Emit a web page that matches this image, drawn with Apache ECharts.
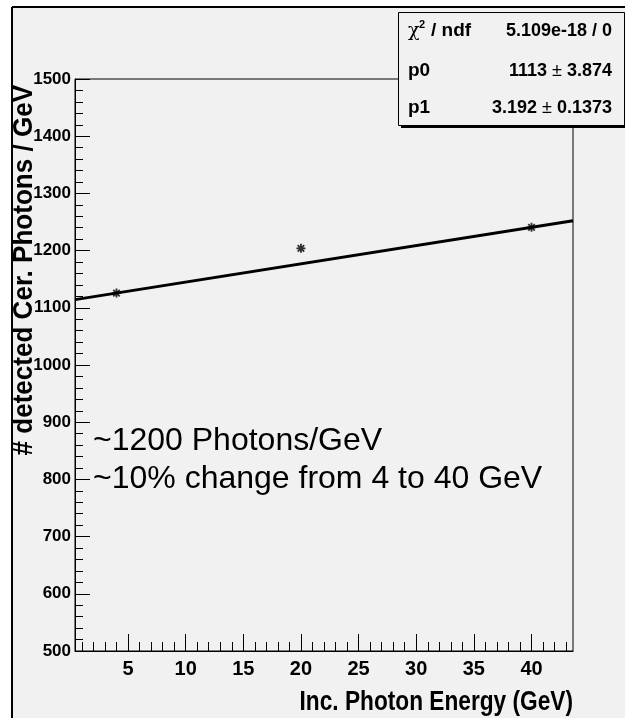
<!DOCTYPE html>
<html>
<head>
<meta charset="utf-8">
<script src="https://cdn.jsdelivr.net/npm/echarts@6/dist/echarts.min.js"></script>
<style>
  html, body { margin: 0; padding: 0; background: #ffffff; }
  #chart { width: 625px; height: 718px; }
</style>
</head>
<body>
<div id="chart"></div>
<script>
// Detected Cherenkov photons per GeV at each incident photon energy
const energies = [4, 20, 40];
const photonsPerGeV = [1125.8, 1204, 1240.7];

// Straight-line fit (pol1): y = p0 + p1 * x
const fitP0 = 1113;
const fitP1 = 3.192;

// Fit statistics box contents
const statNames = ['p0', 'p1'];
const statValues = ['1113', '3.192'];
const statErrors = ['3.874', '0.1373'];
const chi2Text = '5.109e-18 / 0';

// Axis ranges and tick positions
const xRange = [0.4, 43.6];
const yRange = [500, 1500];
const xMajorTicks = [5, 10, 15, 20, 25, 30, 35, 40];
const xMinorTicks = [];
for (let v = 1; v <= 43; v++) xMinorTicks.push(v);

const notes = ['~1200 Photons/GeV', '~10% change from 4 to 40 GeV'];

const SANS = "'Liberation Sans', Arial, Helvetica, sans-serif";

const chart = echarts.init(document.getElementById('chart'), null, { renderer: 'canvas' });

const points = energies.map((e, i) => [e, photonsPerGeV[i]]);
const fitLine = xRange.map(x => [x, fitP0 + fitP1 * x]);

const starPath = 'path://M0,-5L0,5M-5,0L5,0M-3.6,-3.6L3.6,3.6M-3.6,3.6L3.6,-3.6';

const statGraphics = [];
// box body with drop shadow along the bottom and right
statGraphics.push({
  type: 'rect', z: 100,
  shape: { x: 401, y: 15, width: 226, height: 113 },
  style: { fill: '#000' }
});
statGraphics.push({
  type: 'rect', z: 101,
  shape: { x: 398.5, y: 12.5, width: 226, height: 113 },
  style: { fill: '#f1f1f1', stroke: '#000', lineWidth: 1 }
});
// chi2 / ndf row
statGraphics.push({
  type: 'text', z: 102, x: 408, y: 41,
  style: { text: 'χ', font: "normal 19px 'DejaVu Serif', serif", fill: '#000', verticalAlign: 'bottom' }
});
statGraphics.push({
  type: 'text', z: 102, x: 419, y: 30,
  style: { text: '2', font: "bold 11px " + SANS, fill: '#000', verticalAlign: 'bottom' }
});
statGraphics.push({
  type: 'text', z: 102, x: 431, y: 40,
  style: { text: '/ ndf', font: "bold 19px " + SANS, fill: '#000', verticalAlign: 'bottom' }
});
statGraphics.push({
  type: 'text', z: 102, x: 612, y: 40,
  style: { text: chi2Text, font: "bold 18px " + SANS, fill: '#000', align: 'right', verticalAlign: 'bottom' }
});
const rowBottoms = [80, 117];
statNames.forEach((n, i) => {
  statGraphics.push({
    type: 'text', z: 102, x: 408, y: rowBottoms[i],
    style: { text: n, font: "bold 19px " + SANS, fill: '#000', verticalAlign: 'bottom' }
  });
  statGraphics.push({
    type: 'text', z: 102, x: 612, y: rowBottoms[i],
    style: {
      text: '{v|' + statValues[i] + ' }{pm|±}{v| ' + statErrors[i] + '}',
      rich: {
        v: { font: "bold 18px " + SANS, fill: '#000' },
        pm: { font: "normal 18px " + SANS, fill: '#000' }
      },
      align: 'right', verticalAlign: 'bottom'
    }
  });
});

const option = {
  backgroundColor: '#f1f1f1',
  animation: false,
  grid: {
    left: 75, top: 79, right: 52, bottom: 67,
    show: true, borderColor: '#000', borderWidth: 1, backgroundColor: 'transparent'
  },
  xAxis: [
    {
      type: 'value', min: xRange[0], max: xRange[1], position: 'bottom',
      axisLine: { show: true, onZero: false, lineStyle: { color: '#000', width: 1 } },
      axisTick: { show: true, inside: true, length: 17, customValues: xMajorTicks, lineStyle: { color: '#000', width: 1 } },
      axisLabel: {
        show: true, customValues: xMajorTicks, margin: 8,
        fontFamily: SANS, fontWeight: 'bold', fontSize: 20, color: '#000'
      },
      splitLine: { show: false }
    },
    {
      type: 'value', min: xRange[0], max: xRange[1], position: 'bottom', gridIndex: 0,
      axisLine: { show: false, onZero: false },
      axisTick: { show: true, inside: true, length: 9, customValues: xMinorTicks, lineStyle: { color: '#000', width: 1 } },
      axisLabel: { show: false },
      splitLine: { show: false }
    }
  ],
  yAxis: {
    type: 'value', min: yRange[0], max: yRange[1], interval: 100,
    axisLine: { show: true, onZero: false, lineStyle: { color: '#000', width: 1 } },
    axisTick: { show: true, inside: true, length: 15, lineStyle: { color: '#000', width: 1 } },
    minorTick: { show: true, splitNumber: 5, length: 8, lineStyle: { color: '#000', width: 1 } },
    axisLabel: {
      margin: 4, fontFamily: SANS, fontWeight: 'bold', fontSize: 17, color: '#000',
      formatter: v => String(v)
    },
    splitLine: { show: false }
  },
  series: [
    {
      type: 'line', data: fitLine, showSymbol: false, symbol: 'none',
      lineStyle: { color: '#000', width: 3 }, z: 3, silent: true
    },
    {
      type: 'scatter', data: points, symbol: starPath, symbolSize: 9,
      itemStyle: { color: 'rgba(0,0,0,0)', borderColor: '#000', borderWidth: 1.8 }, z: 4
    }
  ],
  graphic: [
    // outer canvas edge: white margin with a dark border line
    { type: 'rect', z: 50, shape: { x: 0, y: 0, width: 625, height: 6 }, style: { fill: '#fff' } },
    { type: 'rect', z: 50, shape: { x: 0, y: 0, width: 11, height: 718 }, style: { fill: '#fff' } },
    { type: 'line', z: 51, shape: { x1: 12, y1: 7, x2: 625, y2: 7 }, style: { stroke: '#000', lineWidth: 2 } },
    { type: 'line', z: 51, shape: { x1: 12, y1: 7, x2: 12, y2: 718 }, style: { stroke: '#000', lineWidth: 2 } },
    // axis titles (condensed bold)
    {
      type: 'text', z: 60, x: 24, y: 85, rotation: Math.PI / 2, scaleX: 0.93,
      style: {
        text: '# detected Cer. Photons / GeV', font: "bold 28px " + SANS,
        fill: '#000', align: 'right', verticalAlign: 'middle'
      }
    },
    {
      type: 'text', z: 60, x: 573, y: 703, scaleX: 0.84,
      style: {
        text: 'Inc. Photon Energy (GeV)', font: "bold 27px " + SANS,
        fill: '#000', align: 'right', verticalAlign: 'middle'
      }
    },
    // annotations
    {
      type: 'text', z: 60, x: 93, y: 457,
      style: { text: notes[0], font: "normal 32px " + SANS, fill: '#000', verticalAlign: 'bottom' }
    },
    {
      type: 'text', z: 60, x: 93, y: 495,
      style: { text: notes[1], font: "normal 32px " + SANS, fill: '#000', verticalAlign: 'bottom' }
    }
  ].concat(statGraphics)
};

chart.setOption(option);
</script>
</body>
</html>
